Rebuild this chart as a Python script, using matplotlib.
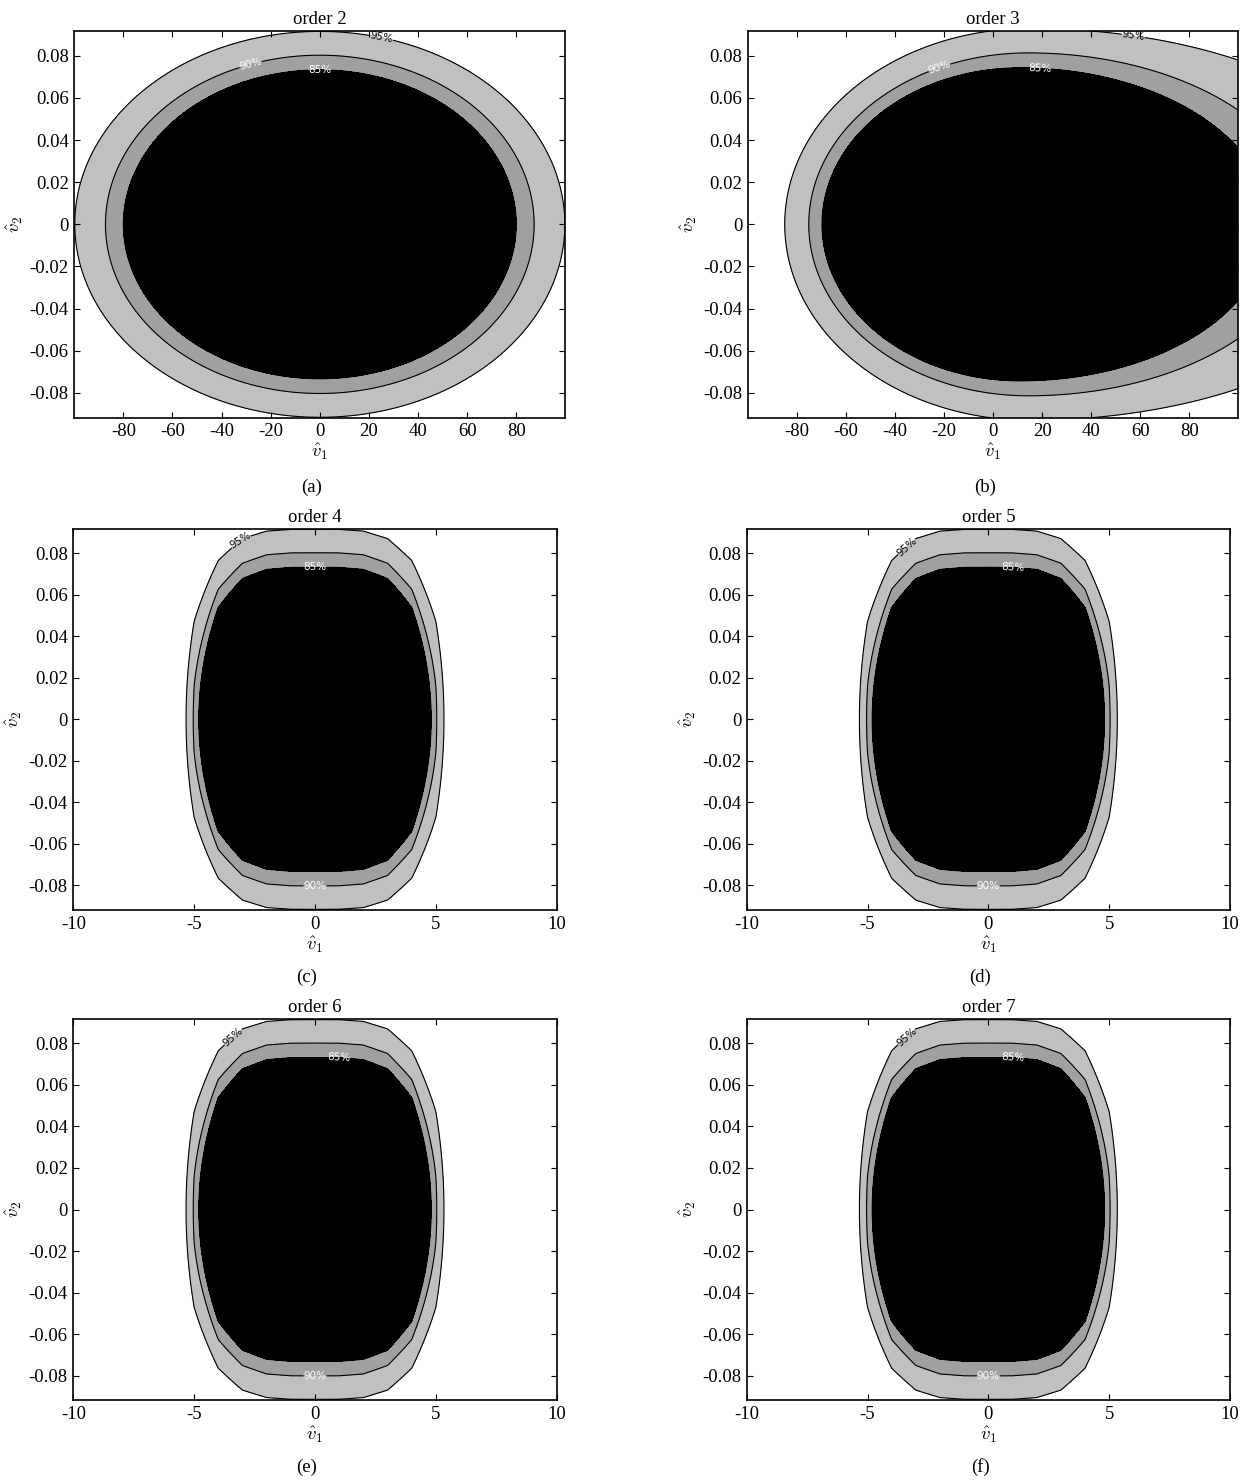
import numpy as np
import matplotlib.pyplot as plt

plt.rcParams['font.family'] = 'Liberation Serif'
plt.rcParams['mathtext.fontset'] = 'cm'
plt.rcParams['axes.unicode_minus'] = False
plt.rcParams['font.size'] = 13.5

# Coverage levels, drawn from the outermost region inwards
LEVEL_LABELS = ['95%', '90%', '85%']
FILL_COLORS = ['#c0c0c0', '#a0a0a0', '#000000']
LABEL_COLORS = ['black', 'white', 'white']

# order 2: centred ellipses (semi-axes along v1 and v2)
ORDER2_A = [99.8, 87.3, 80.0]
ORDER2_B = [0.0916, 0.0803, 0.0733]

# order 3: skewed regions, different semi-axes left/right of the centre
ORDER3_CENTER = [15.0, 14.4, 11.0]
ORDER3_LEFT = [99.9, 89.5, 80.7]
ORDER3_RIGHT = [156.0, 114.7, 101.8]
ORDER3_B = [0.093, 0.0814, 0.0743]

# orders 4-7: rounded boxes, |v1/a|^p + (v2/b)^2 = 1, on a unit v1 grid
HIGH_A = [5.4, 5.05, 4.85]
HIGH_B = [0.0915, 0.0802, 0.0732]
HIGH_P = [4.0, 4.05, 4.05]

ORDERS = [2, 3, 4, 5, 6, 7]
PANEL_TAGS = ['(a)', '(b)', '(c)', '(d)', '(e)', '(f)']

# where the level labels sit on each panel (95%, 90%, 85%)
LABEL_POS = {
    2: [(25, 0.088), (-28, 0.075), (0, 0.073)],
    3: [(57, 0.088), (-22, 0.075), (19, 0.074)],
    4: [(-3, 0.085), (0, -0.080), (0, 0.073)],
    5: [(-3.3, 0.082), (0, -0.080), (1, 0.073)],
    6: [(-3.3, 0.082), (0, -0.080), (1, 0.073)],
    7: [(-3.3, 0.082), (0, -0.080), (1, 0.073)],
}

YLIM = 0.0918
WIDE_X = 100.0
NARROW_X = 10.0

W, H = 1247, 1483
fig = plt.figure(figsize=(W / 100, H / 100), dpi=100)

# axes boxes in pixels: left, top, right, bottom
BOXES = [
    (74.3, 31.0, 565.3, 417.7),
    (747.7, 31.0, 1238.3, 417.7),
    (73.3, 528.7, 556.7, 910.0),
    (746.7, 528.7, 1230.0, 910.0),
    (73.3, 1019.0, 556.7, 1400.0),
    (746.7, 1019.0, 1230.0, 1400.0),
]
TAG_Y = [487, 487, 977, 977, 1467, 1467]


def level_fields(order):
    """Return grid and one field per level; each level boundary is field == 1."""
    if order == 2:
        x = np.linspace(-WIDE_X, WIDE_X, 401)
        y = np.linspace(-YLIM, YLIM, 401)
        X, Y = np.meshgrid(x, y)
        fields = [(X / a) ** 2 + (Y / b) ** 2 for a, b in zip(ORDER2_A, ORDER2_B)]
    elif order == 3:
        x = np.linspace(-WIDE_X, WIDE_X, 401)
        y = np.linspace(-YLIM, YLIM, 401)
        X, Y = np.meshgrid(x, y)
        fields = []
        for c, al, ar, b in zip(ORDER3_CENTER, ORDER3_LEFT, ORDER3_RIGHT, ORDER3_B):
            u = np.where(X < c, (X - c) / al, (X - c) / ar)
            fields.append(u ** 2 + (Y / b) ** 2)
    else:
        x = np.arange(-NARROW_X, NARROW_X + 1, 1.0)
        y = np.linspace(-YLIM, YLIM, 120)
        X, Y = np.meshgrid(x, y)
        fields = [np.abs(X / a) ** p + (Y / b) ** 2
                  for a, b, p in zip(HIGH_A, HIGH_B, HIGH_P)]
    return X, Y, fields


for i, order in enumerate(ORDERS):
    l, t, r, b = BOXES[i]
    ax = fig.add_axes([l / W, 1 - b / H, (r - l) / W, (b - t) / H])
    X, Y, fields = level_fields(order)

    for F, color in zip(fields, FILL_COLORS):
        ax.contourf(X, Y, F, levels=[0, 1], colors=[color])
    for k, F in enumerate(fields):
        cs = ax.contour(X, Y, F, levels=[1], colors='black', linewidths=0.8)
        texts = ax.clabel(cs, fmt=lambda v, s=LEVEL_LABELS[k]: s,
                          manual=[LABEL_POS[order][k]], inline=True,
                          inline_spacing=2, fontsize=7.5,
                          colors=LABEL_COLORS[k])
        for txt in texts:
            txt.set_family('DejaVu Sans')

    if order <= 3:
        ax.set_xlim(-WIDE_X, WIDE_X)
        ax.set_xticks(np.arange(-80, 81, 20))
    else:
        ax.set_xlim(-NARROW_X, NARROW_X)
        ax.set_xticks([-10, -5, 0, 5, 10])
    ax.set_ylim(-YLIM, YLIM)
    yt = np.round(np.arange(-0.08, 0.081, 0.02), 2)
    ax.set_yticks(yt)
    ax.set_yticklabels([f'{v:g}' for v in yt])
    ax.set_xticklabels([f'{v:g}' for v in ax.get_xticks()])

    ax.tick_params(direction='in', top=True, right=True, length=4, width=0.8,
                   pad=4)
    for sp in ax.spines.values():
        sp.set_linewidth(1.2)

    ax.set_title(f'order {order}', fontsize=13.5, pad=5)
    ax.set_xlabel(r'$\hat{v}_1$', labelpad=1)
    ax.set_ylabel(r'$\hat{v}_2$', labelpad=3)

    fig.text((l + r) / 2 / W - 8 / W, 1 - TAG_Y[i] / H, PANEL_TAGS[i],
             ha='center', va='center', fontsize=13.5)

fig.savefig('out.png', dpi=100, facecolor='white')
